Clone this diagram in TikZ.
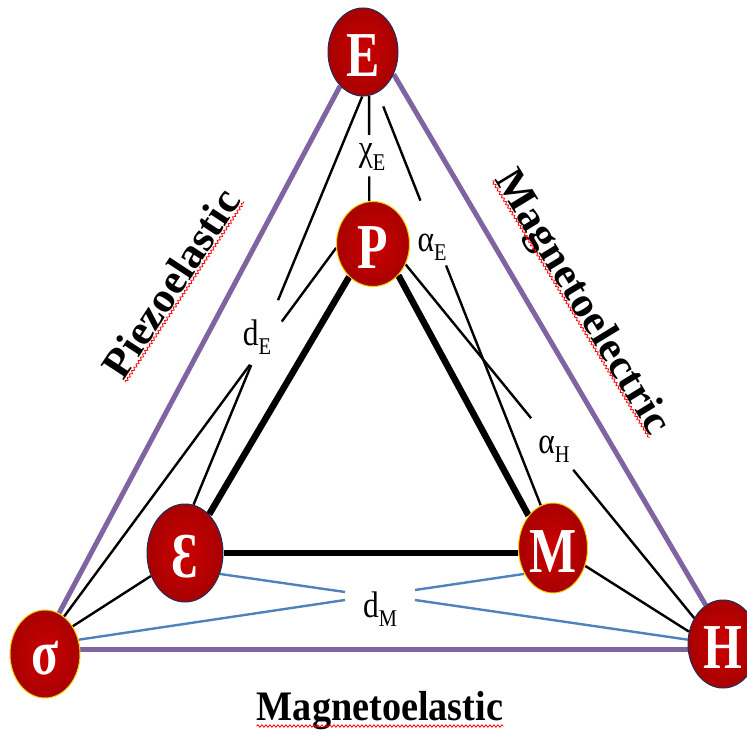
\documentclass[tikz,border=0pt]{standalone}
\usepackage{fontspec}
\setmainfont{Liberation Serif}
\usepackage{graphicx}
\usetikzlibrary{shapes.geometric,calc,decorations.pathmorphing}
\pgfdeclarelayer{background}
\pgfsetlayers{background,main}
\definecolor{tripurple}{HTML}{8064A2}
\definecolor{dmblue}{HTML}{4F81BD}
\definecolor{balllight}{HTML}{CC0202}
\definecolor{balldark}{HTML}{A80000}
\definecolor{rimgold}{HTML}{F2D000}
\definecolor{rimnavy}{HTML}{1F2D5A}
\newcommand\balltxt[1]{\raisebox{-4pt}[\height][\depth]{\scalebox{0.78}[1]{#1}}}
\newcommand\coef[2]{\scalebox{0.85}[1]{#1\raisebox{-0.25em}{\fontsize{24}{24}\selectfont #2}}}
\begin{document}
\begin{tikzpicture}[x=1pt,y=-1pt,
  ball/.style={ellipse, inner sep=0pt, minimum width=70pt, minimum height=88pt,
    inner color=balllight, outer color=balldark, line width=1pt, text=white,
    font=\fontsize{64}{64}\selectfont\bfseries},
  goldrim/.style={ball, draw=rimgold},
  navyrim/.style={ball, draw=rimnavy},
  purpleedge/.style={draw=tripurple, line width=5pt},
  thickedge/.style={draw=black, line width=6.5pt},
  thinedge/.style={draw=black, line width=2.4pt},
  blueedge/.style={draw=dmblue, line width=2.4pt},
  coeflabel/.style={inner sep=0pt, font=\fontsize{37}{37}\selectfont},
  title/.style={inner sep=0pt, font=\fontsize{42}{42}\selectfont\bfseries},
  squiggle/.style={draw=red, line width=0.8pt, decorate,
    decoration={snake, amplitude=1.2pt, segment length=4pt}}
]
\useasboundingbox (0,0) rectangle (747,733);

% balls
\node[navyrim, minimum width=70pt, minimum height=88pt] (E) at (363,52) {\balltxt{E}};
\node[goldrim, minimum width=73pt, minimum height=85pt] (P) at (373,244) {\balltxt{P}};
\node[navyrim, minimum width=76pt, minimum height=98pt] (eps) at (185,553) {\balltxt{Ɛ}};
\node[goldrim, minimum width=69pt, minimum height=90pt] (M) at (553,548) {\balltxt{M}};
\node[goldrim] (sig) at (45,654) {\balltxt{σ}};
\node[navyrim] (H) at (723,644) {\balltxt{H}};

% coefficient labels
\node[coeflabel] (chiE) at (372,157) {\coef{χ}{E}};
\node[coeflabel] (alE) at (432,247) {\coef{α}{E}};
\node[coeflabel] (alH) at (554,449) {\coef{α}{H}};
\node[coeflabel] (dE) at (257,337) {\coef{d}{E}};
\node[coeflabel] (dM) at (380,609) {\coef{d}{M}};

% titles
\node[title, rotate=56.7] (pz) at (171,283) {\scalebox{1.04}[1]{Piezoelastic}};
\node[title, rotate=-58.6] (mg) at (581,303) {\scalebox{1.04}[1]{Magnetoelectric}};
\node[title, anchor=base] (me) at (380,720) {\scalebox{0.91}[1]{Magnetoelastic}};

\draw[squiggle] ($(pz.base west)!2pt!-90:(pz.base east)$) -- ($(pz.base east)!2pt!90:(pz.base west)$);
\draw[squiggle] ($(mg.base west)!2pt!-90:(mg.base east)$) -- ($(mg.base east)!2pt!90:(mg.base west)$);
\draw[squiggle] ($(me.base west)+(0,6)$) -- ($(me.base east)+(0,6)$);

% gap coordinates
\coordinate (eeA) at ($(E.-91)!0.499!(eps.80)$);
\coordinate (eeB) at ($(E.-91)!0.658!(eps.80)$);
\coordinate (psA) at ($(P.-174)!0.20!(sig.63)$);
\coordinate (psB) at ($(P.-174)!0.317!(sig.63)$);
\coordinate (emA) at ($(E.-70)!0.262!(M.106)$);
\coordinate (emB) at ($(E.-70)!0.419!(M.106)$);
\coordinate (phA) at ($(P.-32)!0.435!(H.138)$);
\coordinate (phB) at ($(P.-32)!0.581!(H.138)$);
\coordinate (epA) at ($(E.-82)!0.37!(P.95)$);
\coordinate (epB) at ($(E.-82)!0.765!(P.95)$);
\coordinate (dml1) at (345,592);
\coordinate (dml2) at (345,600);
\coordinate (dmr1) at (415,590);
\coordinate (dmr2) at (415,600);

\begin{pgfonlayer}{background}
  % outer triangle
  \draw[purpleedge] (E.-124) -- (sig.71);
  \draw[purpleedge] (E.-36) -- (H.114);
  \draw[purpleedge] (sig.8) -- (sig.8 -| H.west);
  % inner triangle
  \draw[thickedge] (P.-126) -- (eps.58);
  \draw[thickedge] (P.-51) -- (M.127);
  \draw[thickedge] (eps.east) -- (eps.east -| M.west);
  % thin couplings
  \draw[thinedge] (E.-82) -- (epA);
  \draw[thinedge] (epB) -- (P.95);
  \draw[thinedge] (E.-91) -- (eeA);
  \draw[thinedge] (eeB) -- (eps.80);
  \draw[thinedge] (P.-174) -- (psA);
  \draw[thinedge] (psB) -- (sig.63);
  \draw[thinedge, shorten <=15pt] (E.-70) -- (emA);
  \draw[thinedge] (emB) -- (M.106);
  \draw[thinedge] (P.-32) -- (phA);
  \draw[thinedge] (phB) -- (H.138);
  \draw[thinedge] (M.-29.5) -- (H.160);
  \draw[thinedge] (eps.-146) -- (sig.45);
  % blue d_M couplings
  \draw[blueedge] (eps.-31) -- (dml1);
  \draw[blueedge] (sig.23) -- (dml2);
  \draw[blueedge] (M.-138) -- (dmr1);
  \draw[blueedge] (H.173) -- (dmr2);
\end{pgfonlayer}
\end{tikzpicture}
\end{document}
